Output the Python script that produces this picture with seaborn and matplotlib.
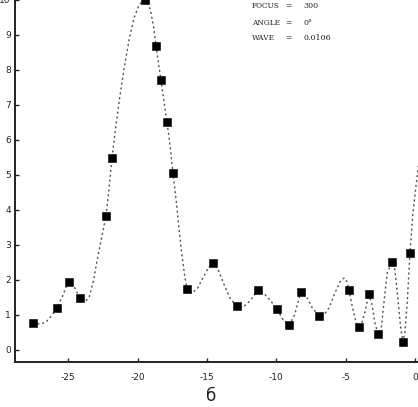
import numpy as np
import pandas as pd
import seaborn as sns
import matplotlib.pyplot as plt

# measured points (squares)
pts_x = [-27.54, -25.81, -24.95, -24.15, -22.28, -21.85, -19.47, -18.67, -18.31,
         -17.88, -17.45, -16.44, -14.56, -12.83, -11.32, -9.95, -9.08, -8.22,
         -6.92, -4.76, -4.04, -3.32, -2.67, -1.66, -0.87, -0.36]
pts_y = [0.77, 1.20, 1.94, 1.49, 3.83, 5.49, 10.0, 8.69, 7.71,
         6.51, 5.06, 1.74, 2.49, 1.26, 1.71, 1.17, 0.71, 1.66,
         0.97, 1.71, 0.66, 1.60, 0.46, 2.51, 0.23, 2.77]

# dotted curve
curve_x = [-27.54, -27.0, -26.6, -26.2, -25.81, -25.4, -25.1, -24.85, -24.5, -24.15,
           -23.8, -23.5, -23.2, -22.9, -22.6, -22.28, -22.05, -21.85, -21.6, -21.3,
           -20.95, -20.6, -20.25, -19.9, -19.47, -19.1, -18.85, -18.67, -18.5, -18.31,
           -18.1, -17.88, -17.65, -17.45, -17.2, -17.0, -16.8, -16.6, -16.44, -16.1,
           -15.7, -15.3, -14.9, -14.56, -14.2, -13.8, -13.3, -12.83, -12.4, -11.9,
           -11.32, -10.9, -10.4, -9.95, -9.5, -9.08, -8.7, -8.22, -7.8, -7.4,
           -6.92, -6.6, -6.2, -5.8, -5.4, -5.1, -4.9, -4.76, -4.5, -4.25,
           -4.04, -3.85, -3.6, -3.32, -3.1, -2.9, -2.67, -2.45, -2.25, -2.0,
           -1.66, -1.45, -1.25, -1.05, -0.87, -0.72, -0.55, -0.36, -0.15, 0.05,
           0.2, 0.35]
curve_y = [0.77, 0.74, 0.80, 0.98, 1.20, 1.55, 1.85, 1.95, 1.75, 1.49,
           1.38, 1.50, 1.95, 2.60, 3.20, 3.83, 4.65, 5.49, 6.30, 7.20,
           8.10, 8.90, 9.50, 9.85, 10.05, 9.75, 9.25, 8.69, 8.20, 7.71,
           7.10, 6.51, 5.80, 5.06, 4.20, 3.40, 2.70, 2.10, 1.74, 1.62,
           1.75, 2.05, 2.35, 2.49, 2.30, 1.90, 1.45, 1.26, 1.22, 1.40,
           1.71, 1.62, 1.40, 1.17, 0.85, 0.71, 0.98, 1.66, 1.50, 1.20,
           0.97, 0.98, 1.20, 1.60, 1.95, 2.06, 1.95, 1.71, 1.20, 0.80,
           0.66, 0.75, 1.10, 1.60, 1.30, 0.80, 0.46, 0.55, 1.30, 2.20,
           2.51, 2.30, 1.55, 0.70, 0.23, 0.50, 1.40, 2.77, 3.90, 4.60,
           5.10, 5.60]

labels = ['FOCUS', 'ANGLE', 'WAVE']
values = ['300', '0°', '0.0106']

sns.set_style('ticks')
plt.rcParams['font.family'] = ['DejaVu Sans']

fig = plt.figure(figsize=(4.18, 4.07), dpi=100)
ax = fig.add_axes([0.036, 0.111, 0.964, 0.889])

sns.lineplot(x=curve_x, y=curve_y, sort=False, ax=ax, color='#555555',
             linewidth=1.1, linestyle=(0, (0.6, 2.6)), dash_capstyle='round')
sns.scatterplot(x=pts_x, y=pts_y, ax=ax, marker='s', s=30, color='black',
                edgecolor='black', linewidth=0.4, zorder=3)

ax.set_xlim(-28.84, 0.22)
ax.set_ylim(-0.34, 10.0)
ax.set_xticks([-25, -20, -15, -10, -5, 0])
ax.set_xticklabels(['-25', '-20', '-15', '-10', '-5', '0'])
ax.set_yticks(range(0, 11))
ax.tick_params(direction='in', length=3, width=1.0, labelsize=6.5,
               colors='#222222')
ax.tick_params(axis='x', pad=8)
ax.tick_params(axis='y', pad=3)
sns.despine(ax=ax)
for s in ['left', 'bottom']:
    ax.spines[s].set_linewidth(1.4)
    ax.spines[s].set_color('#222222')

ys = [0.985, 0.944, 0.907]
for lab, val, yy in zip(labels, values, ys):
    fig.text(0.603, yy, lab, fontsize=5.3, family='DejaVu Serif',
             va='center', ha='left', color='#222222')
    fig.text(0.683, yy, '=', fontsize=5.5, family='DejaVu Serif',
             va='center', ha='left', color='#222222')
    fig.text(0.725, yy, val, fontsize=5.8, family='DejaVu Serif',
             va='center', ha='left', color='#222222')

fig.text(0.505, 0.028, 'б', fontsize=12, ha='center', va='center', color='#222222')

fig.savefig('out.png', dpi=100)
